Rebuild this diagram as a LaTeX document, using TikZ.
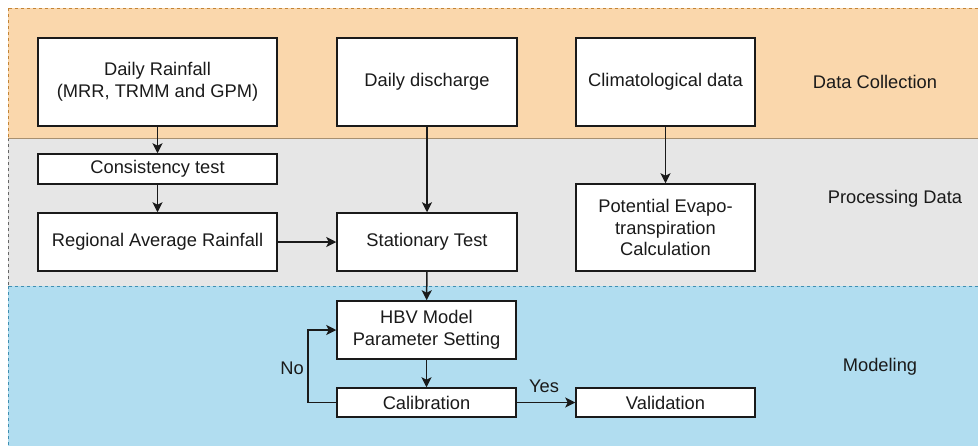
\documentclass[tikz,border=0pt]{standalone}
\usepackage{fontspec}
\setmainfont{Liberation Sans}
\usetikzlibrary{arrows.meta}

\definecolor{collectfill}{HTML}{FAD7AC}
\definecolor{collectline}{HTML}{B46504}
\definecolor{collectedge}{HTML}{A89070}
\definecolor{processfill}{HTML}{E6E6E6}
\definecolor{processline}{HTML}{666666}
\definecolor{modelfill}{HTML}{B1DDF0}
\definecolor{modelline}{HTML}{10739E}
\definecolor{inkdark}{HTML}{1A1A1A}

\begin{document}
\begin{tikzpicture}[
  x=1pt, y=-1pt,
  font=\fontsize{18.3}{21.5}\selectfont,
  band/.style={line width=0.9pt, dash pattern=on 3pt off 3pt},
  stagebox/.style={draw=inkdark, fill=white, line width=1.5pt, align=center,
    inner sep=0pt, text=inkdark},
  bandlabel/.style={text=inkdark, inner sep=0pt},
  flow/.style={draw=inkdark, line width=1.5pt,
    -{Stealth[length=10pt, width=10pt, inset=2.5pt]}},
]
\useasboundingbox (0,0) rectangle (978,445);

% swim-lane bands
\fill[white] (0,0) rectangle (978,445);
\filldraw[band, fill=collectfill, draw=collectline!80] (8,8) rectangle (990,138);
\filldraw[band, fill=processfill, draw=processline] (8,138) rectangle (990,286);
\filldraw[band, fill=modelfill, draw=modelline!80] (8,286) rectangle (990,455);
\draw[collectedge, line width=1pt] (8,138) -- (978,138);

% band titles
\node[bandlabel] (tcollect) at (875,82) {Data Collection};
\node[bandlabel] (tprocess) at (895,199) {Processing Data};
\node[bandlabel] (tmodel) at (880,367) {Modeling};

% data sources
\node[stagebox, minimum width=239pt, minimum height=88pt] (rain) at (157.5,82)
  {Daily Rainfall\\(MRR, TRMM and GPM)};
\node[stagebox, minimum width=180pt, minimum height=88pt] (dis) at (427,82)
  {Daily discharge};
\node[stagebox, minimum width=179pt, minimum height=88pt] (clim) at (665.5,82)
  {Climatological data};

% processing steps
\node[stagebox, minimum width=239pt, minimum height=30pt] (cons) at (157.5,169)
  {Consistency test};
\node[stagebox, minimum width=239pt, minimum height=58pt] (reg) at (157.5,242)
  {Regional Average Rainfall};
\node[stagebox, minimum width=180pt, minimum height=58pt] (stat) at (427,242)
  {Stationary Test};
\node[stagebox, minimum width=179pt, minimum height=87pt] (pet) at (665.5,227.5)
  {Potential Evapo-\\transpiration\\Calculation};

% modelling steps
\node[stagebox, minimum width=179pt, minimum height=58pt] (hbv) at (426.5,330)
  {HBV Model\\Parameter Setting};
\node[stagebox, minimum width=179pt, minimum height=29pt] (cal) at (426.5,402.5)
  {Calibration};
\node[stagebox, minimum width=179pt, minimum height=29pt] (val) at (665.5,402.5)
  {Validation};

\coordinate (loopdown) at (308,402.5);
\coordinate (loopup) at (308,330);

% connectors
\draw[flow] (rain) -- (cons);
\draw[flow] (cons) -- (reg);
\draw[flow] (reg) -- (stat);
\draw[flow] (dis) -- (stat);
\draw[flow] (clim) -- (pet);
\draw[flow] (stat) -- (hbv);
\draw[flow] (hbv) -- (cal);
\draw[flow] (cal.west) -- (loopdown) -- (loopup) -- (hbv.west);
\draw[flow] (cal) -- (val);

\node[text=inkdark, inner sep=0pt] (no) at (292,368) {No};
\node[text=inkdark, inner sep=0pt] (yes) at (544,386) {Yes};
\end{tikzpicture}
\end{document}
